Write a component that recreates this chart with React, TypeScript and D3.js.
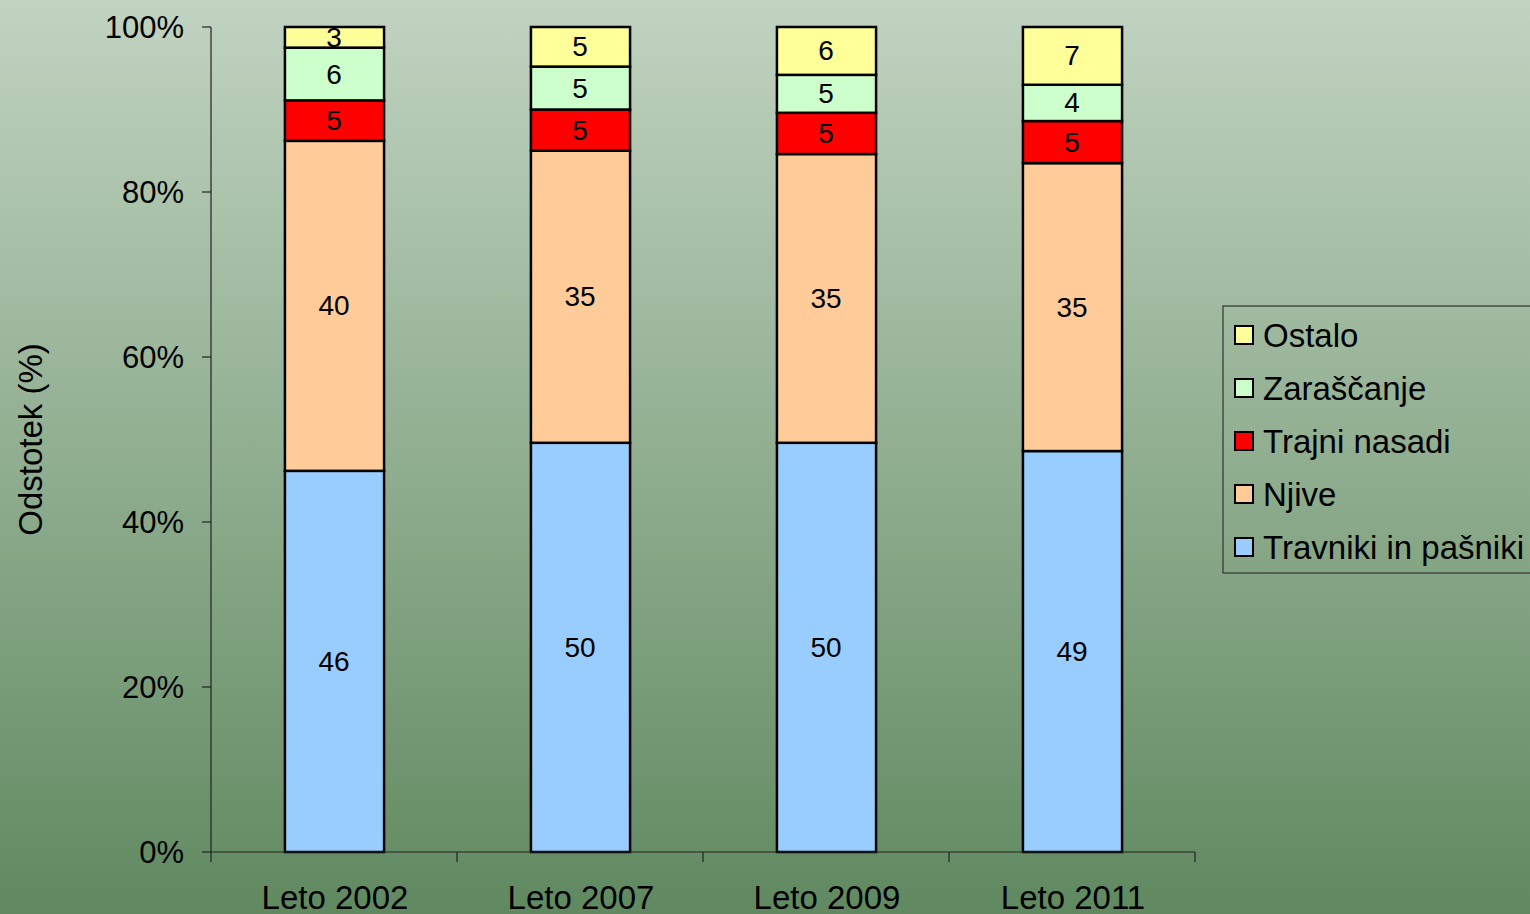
import * as d3 from 'd3';

const years = ['Leto 2002', 'Leto 2007', 'Leto 2009', 'Leto 2011'];
const seriesNames = ['Travniki in pašniki', 'Njive', 'Trajni nasadi', 'Zaraščanje', 'Ostalo'];
const travniki = [46.2, 49.6, 49.6, 48.6];
const njive = [40.0, 35.4, 35.0, 34.9];
const trajni = [4.9, 5.0, 5.0, 5.1];
const zarascanje = [6.4, 5.2, 4.6, 4.4];
const ostalo = [2.5, 4.8, 5.8, 7.0];
const yTicks = [0, 0.2, 0.4, 0.6, 0.8, 1];
const colors = ['#99CCFF', '#FFCC99', '#FF0000', '#CCFFCC', '#FFFF99'];

export default function App() {
  const width = 1530;
  const height = 914;
  const margin = { left: 211, right: 335, top: 27, bottom: 62 };
  const font = '"Liberation Sans", Arial, sans-serif';

  const rows = years.map((year, i) => ({
    year,
    [seriesNames[0]]: travniki[i],
    [seriesNames[1]]: njive[i],
    [seriesNames[2]]: trajni[i],
    [seriesNames[3]]: zarascanje[i],
    [seriesNames[4]]: ostalo[i],
  }));

  const stack = d3
    .stack<any>()
    .keys(seriesNames)
    .offset(d3.stackOffsetExpand);
  const layers = stack(rows);

  const x = d3
    .scaleBand()
    .domain(years)
    .range([margin.left, width - margin.right]);
  const y = d3
    .scaleLinear()
    .domain([0, 1])
    .range([height - margin.bottom, margin.top]);

  const barW = x.bandwidth() * 0.403;
  const fmt = d3.format('.0%');
  const boundaries = [...years.map((d) => x(d) as number), width - margin.right];

  return (
    <svg
      width={width}
      height={height}
      style={{ position: 'absolute', left: 0, top: 0, fontFamily: font }}
    >
      <defs>
        <linearGradient id="bg" x1="0" y1="0" x2="0" y2="1">
          <stop offset="0%" stopColor="#c1d3c1" />
          <stop offset="100%" stopColor="#608960" />
        </linearGradient>
      </defs>
      <rect width={width} height={height} fill="url(#bg)" />

      {/* bars */}
      {layers.map((layer, li) => (
        <g key={layer.key}>
          {layer.map((d, i) => {
            const cx = (x(years[i]) as number) + x.bandwidth() / 2;
            const y0 = y(d[0]);
            const y1 = y(d[1]);
            return (
              <rect
                key={i}
                x={cx - barW / 2 + 0.5}
                y={y1}
                width={barW}
                height={y0 - y1}
                fill={colors[li]}
                stroke="#000"
                strokeWidth={2.5}
              />
            );
          })}
        </g>
      ))}

      {/* data labels */}
      {layers.map((layer) => (
        <g key={'l' + layer.key}>
          {layer.map((d, i) => {
            const cx = (x(years[i]) as number) + x.bandwidth() / 2;
            const value = (d.data as any)[layer.key] as number;
            return (
              <text
                key={i}
                x={cx}
                y={(y(d[0]) + y(d[1])) / 2}
                textAnchor="middle"
                dominantBaseline="central"
                fontSize={28}
                fill="#000"
              >
                {Math.round(value)}
              </text>
            );
          })}
        </g>
      ))}

      {/* y axis */}
      <line
        x1={margin.left}
        x2={margin.left}
        y1={y(0)}
        y2={y(1)}
        stroke="#222"
        strokeWidth={1.2}
      />
      {yTicks.map((t) => (
        <g key={t}>
          <line x1={margin.left - 9} x2={margin.left} y1={y(t)} y2={y(t)} stroke="#222" strokeWidth={1.2} />
          <text
            x={margin.left - 27}
            y={y(t)}
            textAnchor="end"
            dominantBaseline="central"
            fontSize={31}
          >
            {fmt(t)}
          </text>
        </g>
      ))}

      {/* x axis */}
      <line
        x1={margin.left}
        x2={width - margin.right}
        y1={y(0)}
        y2={y(0)}
        stroke="#222"
        strokeWidth={1.2}
      />
      {boundaries.map((bx, i) => (
        <line key={i} x1={bx} x2={bx} y1={y(0)} y2={y(0) + 10} stroke="#222" strokeWidth={1.2} />
      ))}
      {years.map((yr) => (
        <text
          key={yr}
          x={(x(yr) as number) + x.bandwidth() / 2 + 1}
          y={909}
          textAnchor="middle"
          fontSize={33}
        >
          {yr}
        </text>
      ))}

      {/* y axis title */}
      <text
        transform={`translate(42, ${(y(0) + y(1)) / 2}) rotate(-90)`}
        textAnchor="middle"
        fontSize={33}
      >
        Odstotek (%)
      </text>

      {/* legend */}
      <g>
        <rect x={1223} y={306} width={320} height={267} fill="none" stroke="#333" strokeWidth={1.2} />
        {seriesNames
          .map((name, i) => ({ name, color: colors[i] }))
          .reverse()
          .map((item, i) => {
            const cy = 335 + i * 53;
            return (
              <g key={item.name}>
                <rect x={1235} y={cy - 9} width={18} height={18} fill={item.color} stroke="#000" strokeWidth={2} />
                <text x={1263} y={cy} dominantBaseline="central" fontSize={33}>
                  {item.name}
                </text>
              </g>
            );
          })}
      </g>
    </svg>
  );
}
